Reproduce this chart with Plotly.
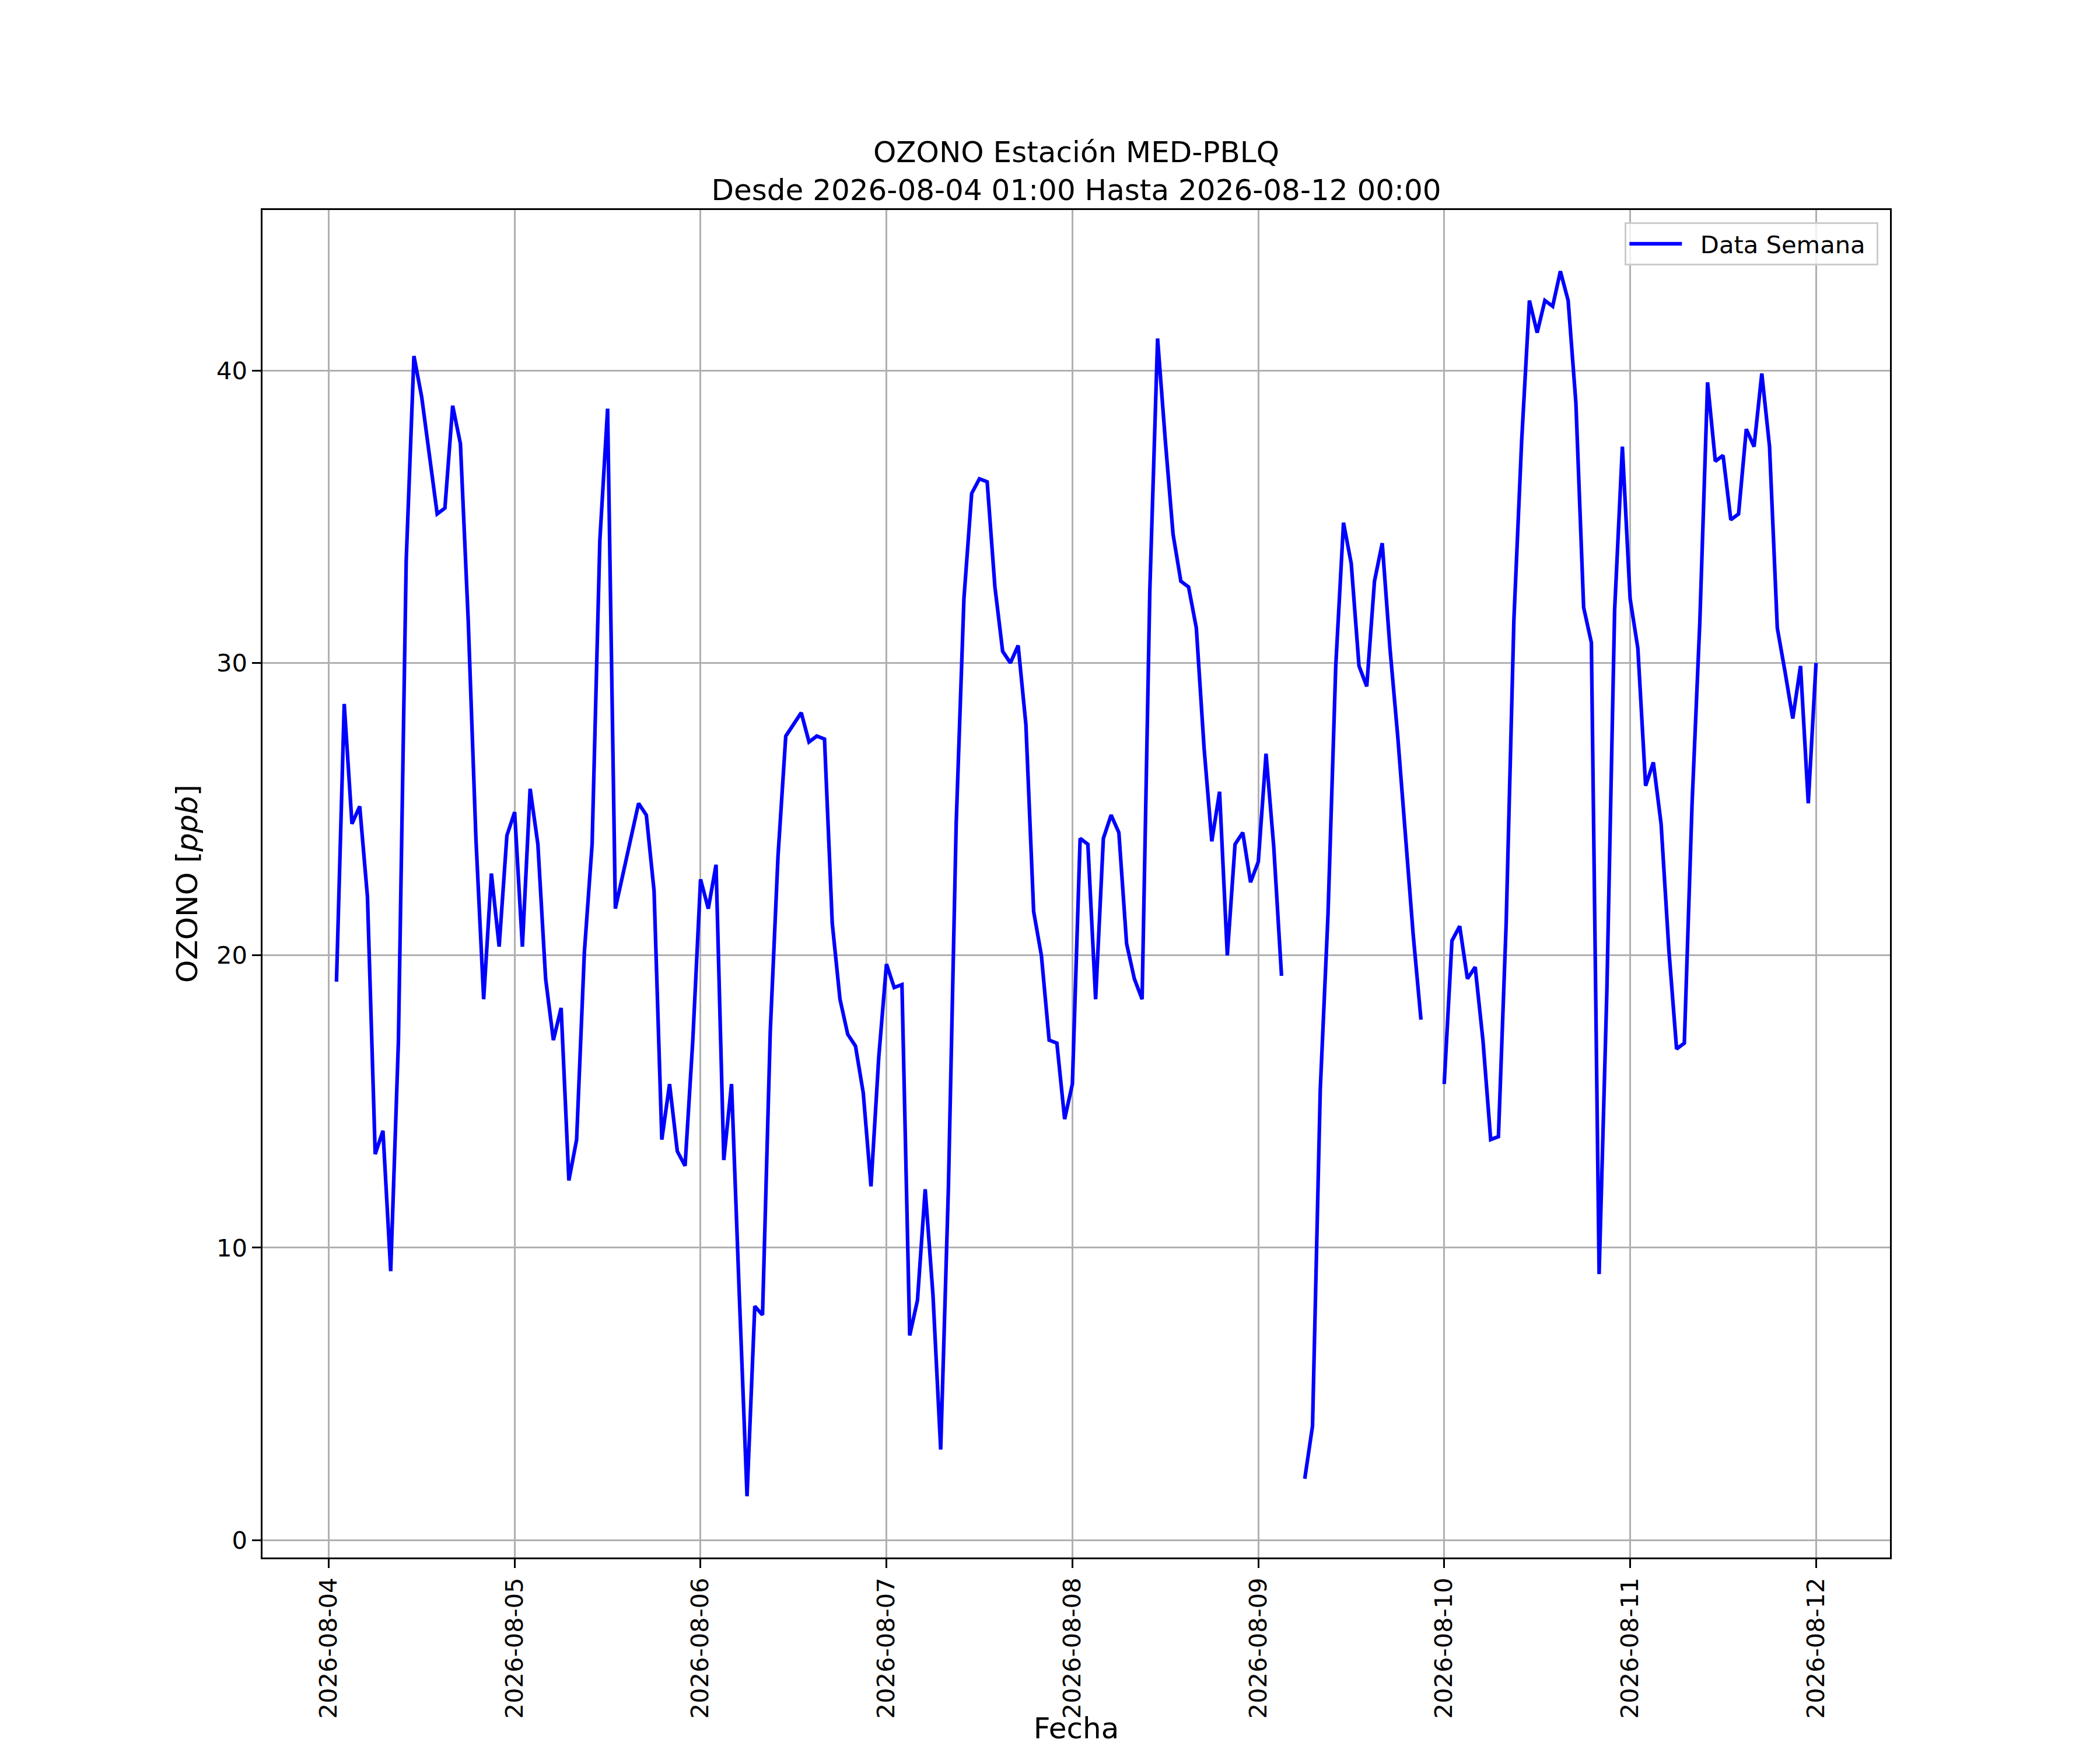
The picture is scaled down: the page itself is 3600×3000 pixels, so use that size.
import pandas as pd
import plotly.graph_objects as go

# Datos horarios de ozono (ppb), 2026-08-04 01:00 .. 2026-08-12 00:00
inicio = "2026-08-04 01:00"
fin = "2026-08-12 00:00"

dia1 = [19.1, 28.6, 24.5, 25.1, 22.0, 13.2, 14.0, 9.2, 17.1, 33.5, 40.5, 39.1,
        37.1, 35.1, 35.3, 38.8, 37.5, 31.5, 24.0, 18.5, 22.8, 20.3, 24.1, 24.9]
dia2 = [20.3, 25.7, 23.8, 19.2, 17.1, 18.2, 12.3, 13.7, 20.1, 23.8, 34.2, 38.7,
        21.6, 22.8, 24.0, 25.2, 24.8, 22.2, 13.7, 15.6, 13.3, 12.8, 17.1, 22.6]
dia3 = [21.6, 23.1, 13.0, 15.6, 8.4, 1.5, 8.0, 7.7, 17.4, 23.4, 27.5, 27.9,
        28.3, 27.3, 27.5, 27.4, 21.1, 18.5, 17.3, 16.9, 15.3, 12.1, 16.5, 19.7]
dia4 = [18.9, 19.0, 7.0, 8.2, 12.0, 8.4, 3.1, 12.1, 24.5, 32.2, 35.8, 36.3,
        36.2, 32.6, 30.4, 30.0, 30.6, 27.9, 21.5, 20.0, 17.1, 17.0, 14.4, 15.6]
dia5 = [24.0, 23.8, 18.5, 24.0, 24.8, 24.2, 20.4, 19.2, 18.5, 32.5, 41.1, 37.6,
        34.4, 32.8, 32.6, 31.2, 27.1, 23.9, 25.6, 20.0, 23.8, 24.2, 22.5, 23.2]
dia6 = [26.9, 23.7, 19.3, None, None, 2.1, 3.9, 15.4, 21.4, 29.9, 34.8, 33.4,
        29.9, 29.2, 32.8, 34.1, 30.5, 27.5, 24.1, 20.7, 17.8, None, None, 15.6]
dia7 = [20.5, 21.0, 19.2, 19.6, 17.1, 13.7, 13.8, 21.1, 31.5, 37.6, 42.4, 41.3,
        42.4, 42.2, 43.4, 42.4, 38.9, 31.9, 30.7, 9.1, 18.8, 31.8, 37.4, 32.2]
dia8 = [30.5, 25.8, 26.6, 24.5, 20.2, 16.8, 17.0, 25.2, 31.4, 39.6, 36.9, 37.1,
        34.9, 35.1, 38.0, 37.4, 39.9, 37.4, 31.2, 29.7, 28.1, 29.9, 25.2, 30.0]

ozono = dia1 + dia2 + dia3 + dia4 + dia5 + dia6 + dia7 + dia8
fechas = pd.date_range(inicio, fin, freq="h")

y_ticks = [0, 10, 20, 30, 40]
x_ticks = pd.date_range("2026-08-04", "2026-08-12", freq="D")

# margenes automaticos tipo matplotlib (5%)
span = fechas[-1] - fechas[0]
x_rango = [fechas[0] - 0.05 * span, fechas[-1] + 0.05 * span]
vals = [v for v in ozono if v is not None]
dy = max(vals) - min(vals)
y_rango = [min(vals) - 0.05 * dy, max(vals) + 0.05 * dy]

PT = 300 / 72  # px por punto (figura 12x10 a 300 dpi)
FUENTE = "DejaVu Sans"
BODY = 8  # margen por defecto del <body> de la pagina
W, H = 3600 - 2 * BODY, 3000 - 2 * BODY
# subplot por defecto de matplotlib: left .125, right .9, bottom .11, top .88
ML, MR, MT, MB = 450 - BODY, 360 - BODY, 360 - BODY, 330 - BODY

fig = go.Figure()
fig.add_trace(go.Scatter(x=fechas, y=ozono, mode="lines",
                         name="\u00a0\u00a0Data Semana\u00a0",
                         line=dict(color="blue", width=1.5 * PT)))

eje = dict(showline=True, mirror=True, linecolor="black", linewidth=0.8 * PT,
           ticks="outside", ticklen=3.5 * PT, tickwidth=0.8 * PT, tickcolor="black",
           showgrid=True, gridcolor="#b0b0b0", gridwidth=0.8 * PT, zeroline=False,
           automargin=False, tickfont=dict(family=FUENTE, size=10 * PT, color="black"))

ancho = W - ML - MR
alto = H - MT - MB

fig.update_layout(
    width=W, height=H,
    template="none",
    plot_bgcolor="white", paper_bgcolor="white",
    margin=dict(l=ML, r=MR, t=MT, b=MB, pad=0),
    font=dict(family=FUENTE, color="black"),
    title=dict(text="OZONO Estación MED-PBLQ<br>Desde 2026-08-04 01:00 Hasta 2026-08-12 00:00",
               x=0.5, xref="paper", xanchor="center",
               y=1 - (278 - BODY) / H, yref="container", yanchor="bottom",
               pad=dict(t=0, b=0, l=0, r=0),
               font=dict(family=FUENTE, size=12 * PT, color="black")),
    xaxis=dict(eje, range=x_rango, tickvals=x_ticks, tickformat="%Y-%m-%d",
               tickangle=-90,
               title=dict(text="Fecha", standoff=25,
                          font=dict(family=FUENTE, size=12 * PT))),
    yaxis=dict(eje, range=y_rango, tickvals=y_ticks,
               title=dict(text="OZONO [<i>ppb</i>]", standoff=4 * PT,
                          font=dict(family=FUENTE, size=12 * PT))),
    showlegend=True,
    legend=dict(x=(3220 - 450) / ancho, xanchor="right",
                y=1 - 21 / alto, yanchor="top",
                bgcolor="rgba(255,255,255,0.8)", bordercolor="#cccccc",
                borderwidth=0.8 * PT, itemwidth=90,
                font=dict(family=FUENTE, size=10 * PT, color="black")),
)

fig.write_html("out.html")
